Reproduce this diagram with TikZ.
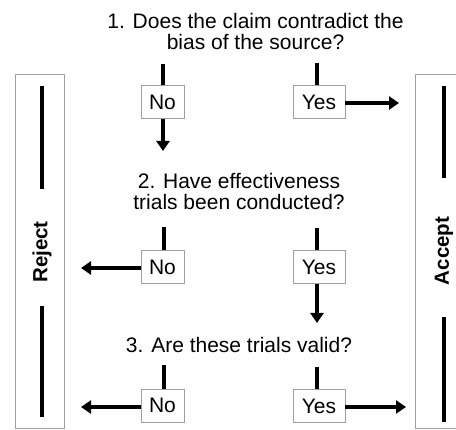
\documentclass[tikz,border=0pt]{standalone}
\usepackage{fontspec}
\setmainfont{Liberation Sans}
\usetikzlibrary{arrows.meta}
\begin{document}
\begin{tikzpicture}[x=1pt,y=-1pt,
  txt/.style={font=\fontsize{21}{21}\selectfont, inner sep=0pt},
  question/.style={txt, align=center},
  ans/.style={txt, draw=gray!75, line width=0.8pt, fill=white, minimum height=33pt},
  nobox/.style={ans, minimum width=43pt},
  yesbox/.style={ans, minimum width=52pt},
  side/.style={draw=gray!75, line width=0.8pt},
  sidelabel/.style={font=\fontsize{20.5}{20.5}\selectfont\bfseries, inner sep=0pt, rotate=90},
  bar/.style={line width=4pt},
  conn/.style={line width=3.6pt},
  arr/.style={conn, -{Triangle[width=13pt,length=10pt]}}]
\useasboundingbox (0,0) rectangle (456,430);
% side boxes
\draw[side] (15,74) rectangle (64,428);
\draw[side] (457,74) -| (415,428) -- (457,428);
\node[sidelabel] (reject) at (42,252) {Reject};
\node[sidelabel] (accept) at (444,251) {Accept};
\draw[bar] (42,86) -- (42,189);
\draw[bar] (42,306) -- (42,417);
\draw[bar] (444,86) -- (444,178);
\draw[bar] (444,317) -- (444,422);
% questions
\node[question] (q1) at (255.5,31) {1. Does the claim contradict the\\bias of the source?};
\node[question] (q2) at (239,191) {2. Have effectiveness\\trials been conducted?};
\node[txt, anchor=base] (q3) at (239,353) {3. Are these trials valid?};
% answers
\node[nobox] (no1) at (162.5,102) {No};
\node[yesbox] (yes1) at (319,102) {Yes};
\node[nobox] (no2) at (162.5,267) {No};
\node[yesbox] (yes2) at (319,267) {Yes};
\node[nobox] (no3) at (162.5,405.5) {No};
\node[yesbox] (yes3) at (319,406) {Yes};
% stems
\coordinate (s1n) at (163,64);
\coordinate (s1y) at (317,63);
\coordinate (s2n) at (164,227);
\coordinate (s2y) at (317,228);
\coordinate (s3n) at (164,365);
\coordinate (s3y) at (317,367);
\draw[conn] (s1n) -- (s1n |- no1.north);
\draw[conn] (s1y) -- (s1y |- yes1.north);
\draw[conn] (s2n) -- (s2n |- no2.north);
\draw[conn] (s2y) -- (s2y |- yes2.north);
\draw[conn] (s3n) -- (s3n |- no3.north);
\draw[conn] (s3y) -- (s3y |- yes3.north);
% arrows
\coordinate (e1n) at (163,151);
\coordinate (e1y) at (399,103);
\coordinate (e2n) at (81,268);
\coordinate (e2y) at (317,323);
\coordinate (e3n) at (81,407);
\coordinate (e3y) at (406,407);
\draw[arr] (e1n |- no1.south) -- (e1n);
\draw[arr] (yes1.east |- e1y) -- (e1y);
\draw[arr] (no2.west |- e2n) -- (e2n);
\draw[arr] (e2y |- yes2.south) -- (e2y);
\draw[arr] (no3.west |- e3n) -- (e3n);
\draw[arr] (yes3.east |- e3y) -- (e3y);
\end{tikzpicture}
\end{document}
